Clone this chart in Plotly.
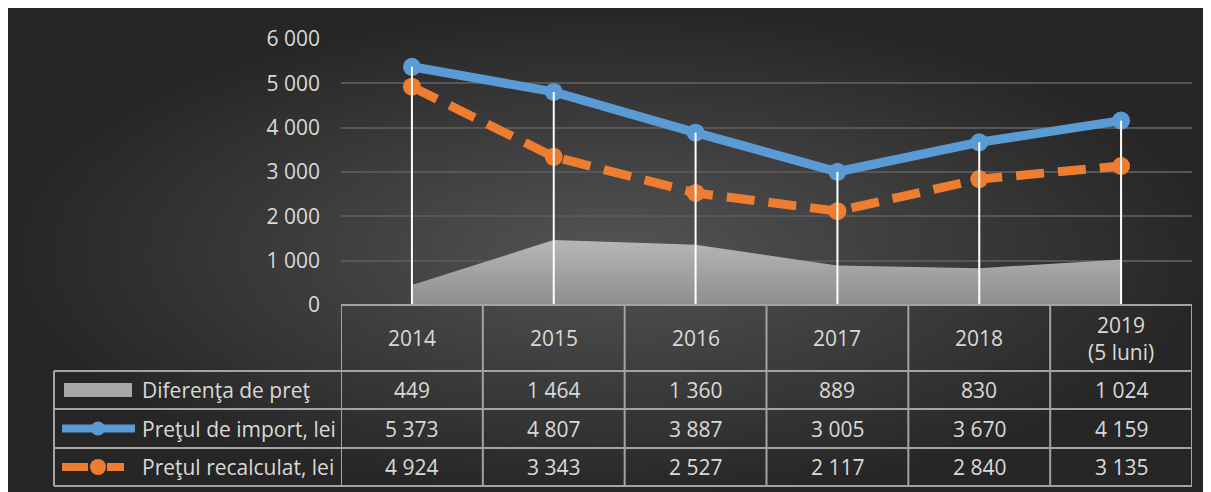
import plotly.graph_objects as go

# ---------------- data ----------------
categories = ['2014', '2015', '2016', '2017', '2018', '2019<br>(5 luni)']
diferenta = [449, 1464, 1360, 889, 830, 1024]
import_price = [5373, 4807, 3887, 3005, 3670, 4159]
recalc_price = [4924, 3343, 2527, 2117, 2840, 3135]
series_names = ['Diferenţa de preţ', 'Preţul de import, lei', 'Preţul recalculat, lei']
y_ticks = [0, 1000, 2000, 3000, 4000, 5000, 6000]

# ---------------- style ----------------
W, H = 1211, 492
FONT = 'Open Sans'
TXT = '#d9d9d9'
FS = 21
BLUE = '#5b9bd5'
ORANGE = '#ed7d31'
GRID = '#575757'
TLINE = '#a3a3a3'

# figure-pixel geometry (page body offsets the figure by ~8px)
plot_l, plot_r, plot_t, plot_b = 333, 1184, 31, 297
row_edges = [363, 401, 440, 478]
legend_left = 46
text_left = 132
key_l, key_r, key_c = 54, 126, 90


def fmt(v):
    return f"{v:,}".replace(',', ' ')


fig = go.Figure()

# background (pixel-mapped axes x/y)
fig.add_trace(go.Scatter(
    x=[0, W, W, 0, 0], y=[0, 0, H, H, 0], xaxis='x', yaxis='y',
    mode='none', fill='toself',
    fillgradient=dict(type='radial', colorscale=[[0, '#545454'], [1, '#262626']]),
    hoverinfo='skip'))

idx = list(range(len(categories)))

# area
fig.add_trace(go.Scatter(
    x=idx, y=diferenta, xaxis='x2', yaxis='y2', mode='none',
    fill='tozeroy',
    fillgradient=dict(type='vertical', colorscale=[[0, '#8e8e8e'], [1, '#b6b6b6']],
                      start=0, stop=max(diferenta)),
    name=series_names[0]))

# import price
fig.add_trace(go.Scatter(
    x=idx, y=import_price, xaxis='x2', yaxis='y2', mode='lines+markers',
    line=dict(color=BLUE, width=9), marker=dict(color=BLUE, size=18),
    name=series_names[1], cliponaxis=False))

# recalculated price
fig.add_trace(go.Scatter(
    x=idx, y=recalc_price, xaxis='x2', yaxis='y2', mode='lines+markers',
    line=dict(color=ORANGE, width=9, dash='28px,14px'), marker=dict(color=ORANGE, size=18),
    name=series_names[2], cliponaxis=False))

# drop lines
dx, dy = [], []
for i, a, b, d in zip(idx, import_price, recalc_price, diferenta):
    dx += [i, i, None]
    dy += [max(a, b, d), 0, None]
fig.add_trace(go.Scatter(x=dx, y=dy, xaxis='x2', yaxis='y2', mode='lines',
                         line=dict(color='white', width=2), hoverinfo='skip',
                         cliponaxis=False))

shapes = []
n = len(categories)
LW = 2
shapes.append(dict(type='line', xref='x', yref='y', x0=plot_l, x1=plot_r, y0=plot_b, y1=plot_b,
                   line=dict(color=TLINE, width=LW)))
for ry in row_edges:
    shapes.append(dict(type='line', xref='x', yref='y', x0=legend_left, x1=plot_r, y0=ry, y1=ry,
                       line=dict(color=TLINE, width=LW)))
for i in range(n + 1):
    shapes.append(dict(type='line', xref='x2', yref='y', x0=i - 0.5, x1=i - 0.5,
                       y0=plot_b, y1=row_edges[-1], line=dict(color=TLINE, width=LW)))
shapes.append(dict(type='line', xref='x', yref='y', x0=legend_left, x1=legend_left,
                   y0=row_edges[0], y1=row_edges[-1], line=dict(color=TLINE, width=LW)))

# legend keys
rc = [(row_edges[i] + row_edges[i + 1]) / 2 for i in range(3)]
shapes.append(dict(type='rect', xref='x', yref='y', x0=key_l + 2, x1=key_r - 2,
                   y0=rc[0] - 7, y1=rc[0] + 7, fillcolor='#a8a8a8', line=dict(width=0)))
shapes.append(dict(type='line', xref='x', yref='y', x0=key_l, x1=key_r + 1, y0=rc[1], y1=rc[1],
                   line=dict(color=BLUE, width=8)))
shapes.append(dict(type='circle', xref='x', yref='y', x0=key_c - 7, x1=key_c + 7,
                   y0=rc[1] - 7, y1=rc[1] + 7, fillcolor=BLUE, line=dict(width=0)))
shapes.append(dict(type='line', xref='x', yref='y', x0=key_l, x1=key_c - 10, y0=rc[2], y1=rc[2],
                   line=dict(color=ORANGE, width=8)))
shapes.append(dict(type='line', xref='x', yref='y', x0=key_c + 9, x1=key_r - 10, y0=rc[2], y1=rc[2],
                   line=dict(color=ORANGE, width=8)))
shapes.append(dict(type='circle', xref='x', yref='y', x0=key_c - 8, x1=key_c + 8,
                   y0=rc[2] - 8, y1=rc[2] + 8, fillcolor=ORANGE, line=dict(width=0)))

annotations = []
hdr_y = (plot_b + row_edges[0]) / 2
for i, c in zip(idx, categories):
    annotations.append(dict(x=i, xref='x2', y=hdr_y, yref='y', text=c, showarrow=False,
                            font=dict(family=FONT, size=FS, color=TXT), align='center'))
for r, (name, vals) in enumerate(zip(series_names, [diferenta, import_price, recalc_price])):
    annotations.append(dict(x=text_left, xref='x', y=rc[r], yref='y', text=name, showarrow=False,
                            xanchor='left', font=dict(family=FONT, size=FS, color=TXT)))
    for i, v in zip(idx, vals):
        annotations.append(dict(x=i, xref='x2', y=rc[r], yref='y', text=fmt(v), showarrow=False,
                                font=dict(family=FONT, size=FS, color=TXT)))

fig.update_layout(
    width=W, height=H, margin=dict(l=0, r=0, t=0, b=0, autoexpand=False),
    paper_bgcolor='#262626', plot_bgcolor='rgba(0,0,0,0)',
    showlegend=False, hovermode=False,
    xaxis=dict(domain=[0, 1], range=[0, W], visible=False, fixedrange=True, automargin=False),
    yaxis=dict(domain=[0, 1], range=[H, 0], visible=False, fixedrange=True, automargin=False),
    xaxis2=dict(domain=[plot_l / W, plot_r / W], anchor='y2',
                range=[-0.5, n - 0.5], showticklabels=False, showgrid=False,
                zeroline=False, showline=False, ticks='', automargin=False),
    yaxis2=dict(domain=[1 - plot_b / H, 1 - plot_t / H], anchor='x2', range=[0, 6000],
                tickvals=y_ticks, ticktext=[fmt(v) for v in y_ticks],
                showgrid=True, gridcolor=GRID, gridwidth=1.5, zeroline=False,
                showline=False, ticks='', ticklabelstandoff=20, automargin=False,
                tickfont=dict(family=FONT, size=FS, color=TXT)),
    shapes=shapes, annotations=annotations,
)

fig.write_html('out.html')
